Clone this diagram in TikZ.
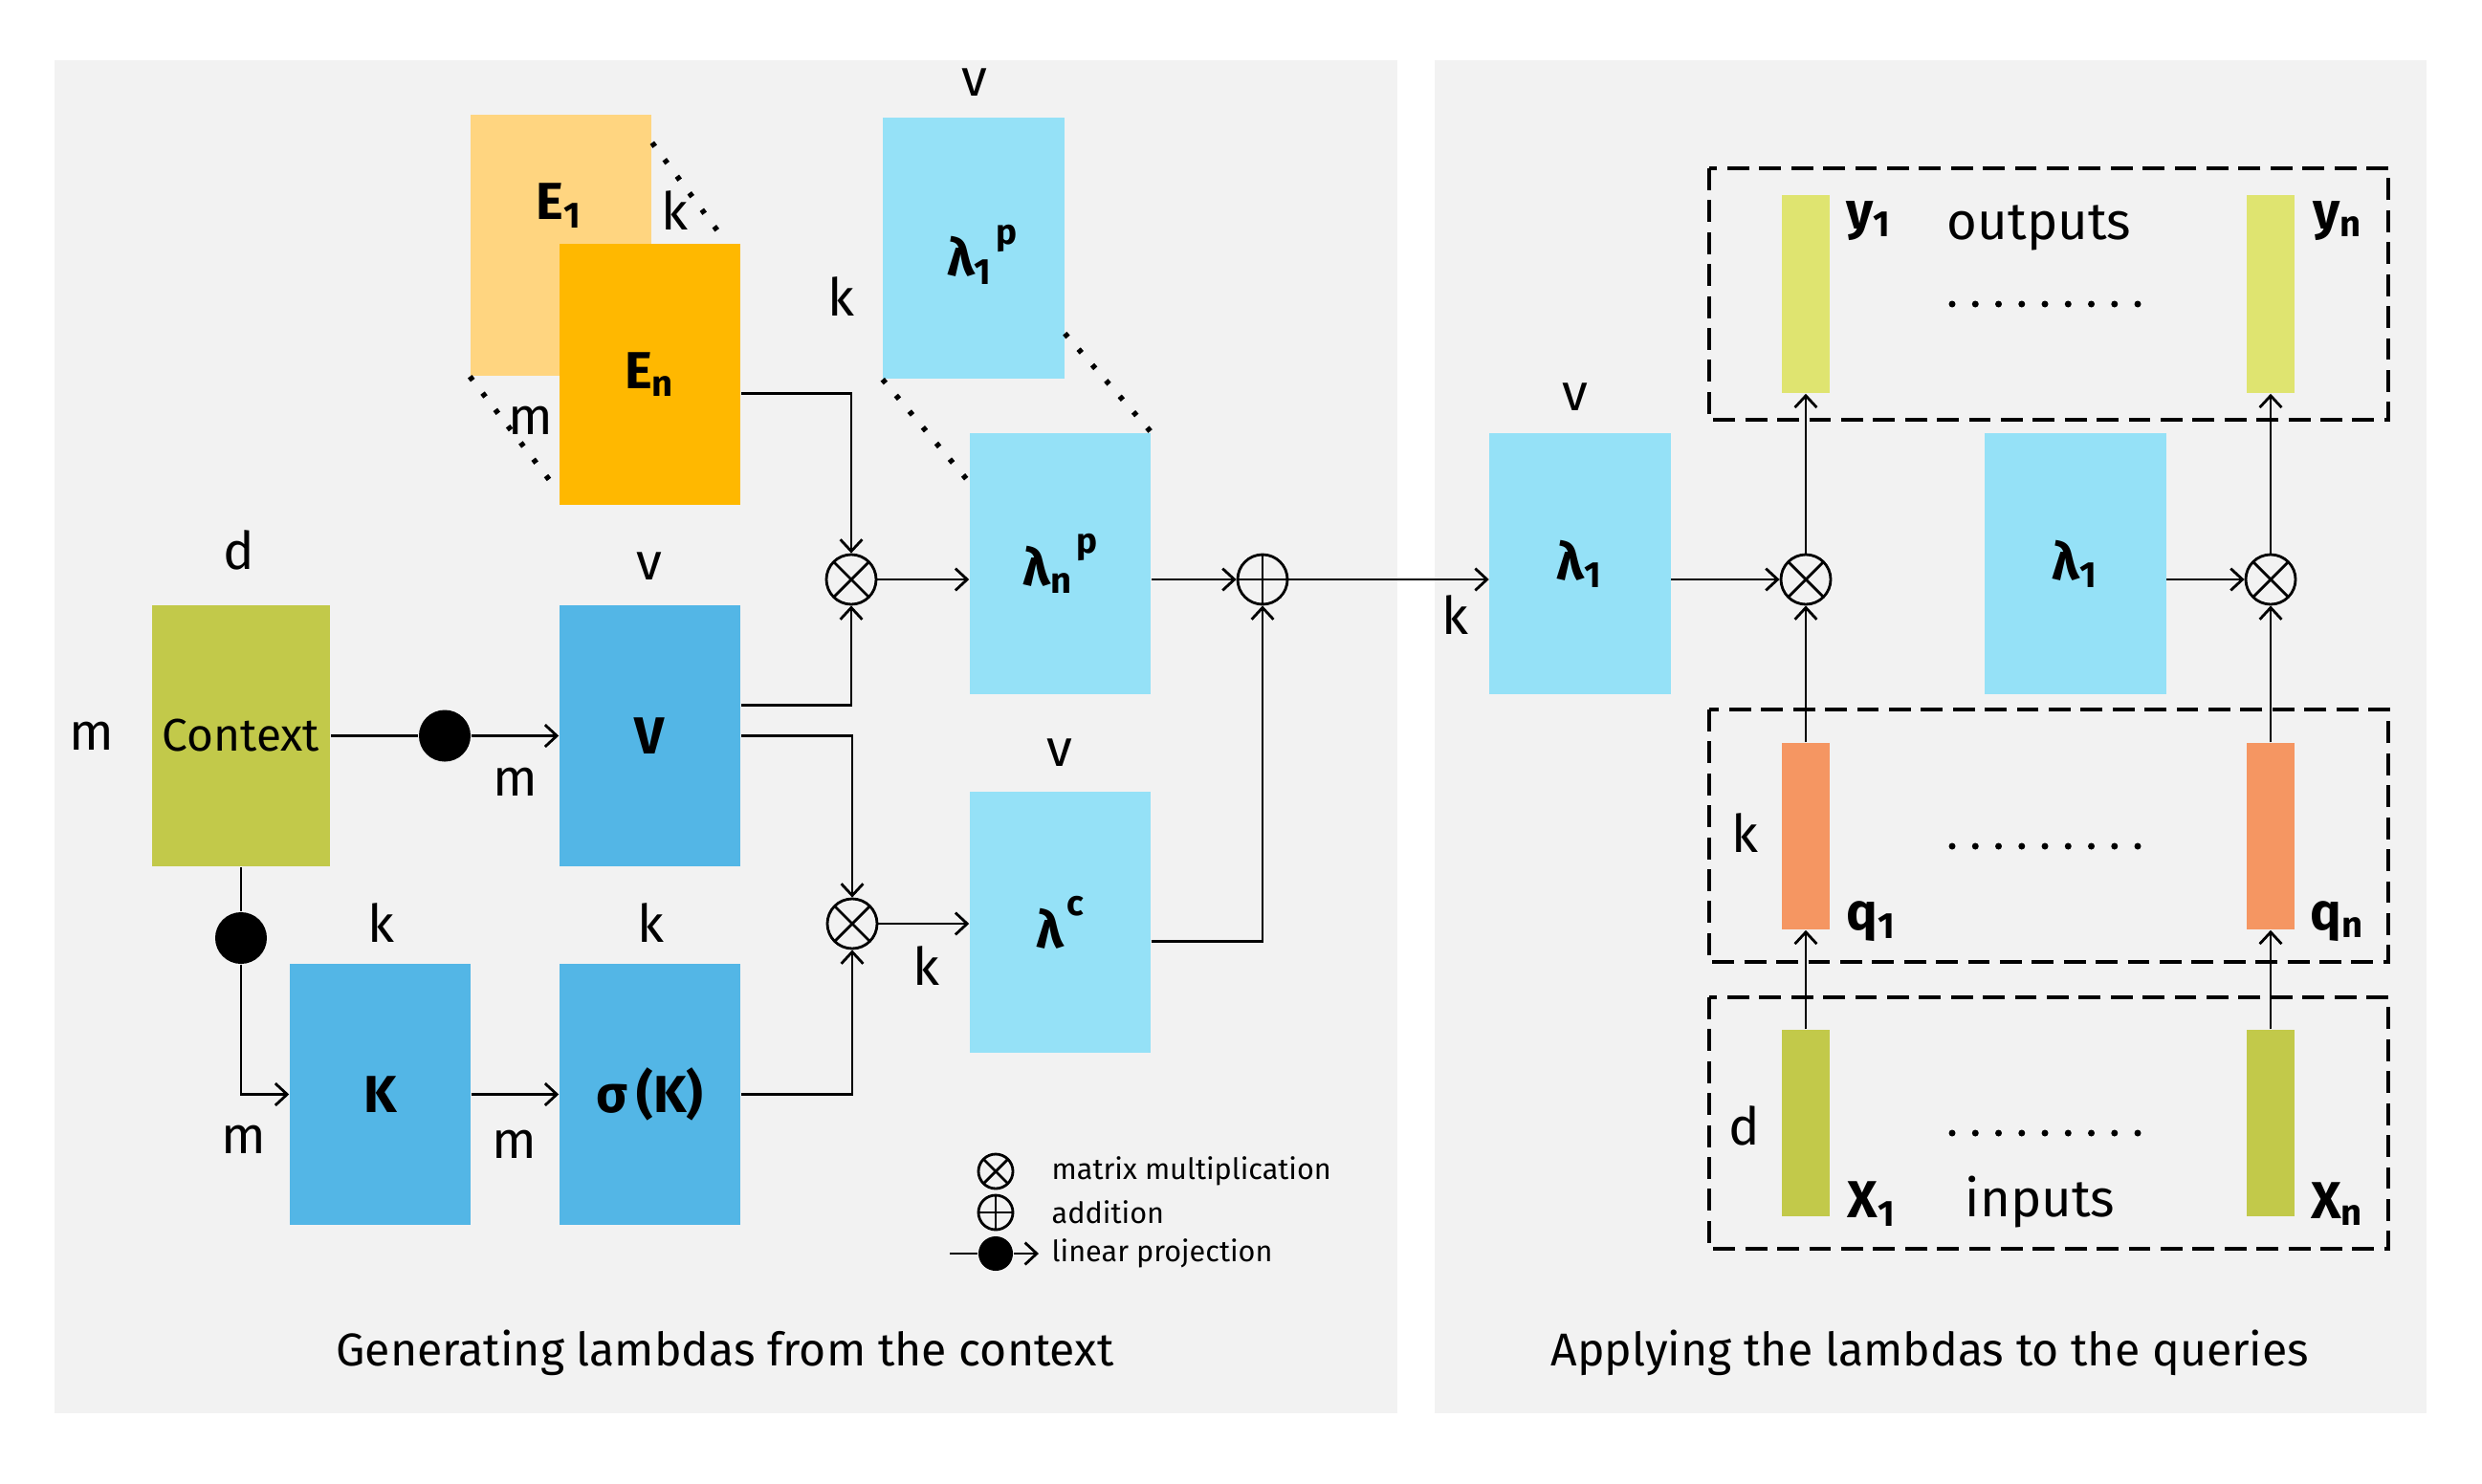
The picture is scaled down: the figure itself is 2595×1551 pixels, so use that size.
\documentclass[tikz,border=0pt]{standalone}
\usepackage{fontspec}
\setmainfont{Fira Sans}
\usetikzlibrary{arrows.meta}

\definecolor{panelgray}{HTML}{F2F2F2}
\definecolor{embA}{HTML}{FFD580}
\definecolor{embB}{HTML}{FFB800}
\definecolor{lamblue}{HTML}{95E1F7}
\definecolor{matblue}{HTML}{53B6E6}
\definecolor{ctxgreen}{HTML}{C2C94A}
\definecolor{outgreen}{HTML}{DFE470}
\definecolor{qorange}{HTML}{F59662}

\newcommand{\dimsz}{\fontsize{15.5}{18}\selectfont}
\newcommand{\ctxsz}{\fontsize{13.6}{16}\selectfont}
\newcommand{\ttlsz}{\fontsize{13.7}{16}\selectfont}
\newcommand{\lgdsz}{\fontsize{8.7}{10}\selectfont}
\newcommand{\hisup}[1]{\kern1pt\raisebox{0.62em}{\fontsize{10.5}{12}\selectfont #1}}

\tikzset{
	mat/.style={minimum width=1.89cm, minimum height=2.73cm, inner sep=0pt, fill=#1, font=\dimsz\bfseries},
	vbar/.style={minimum width=0.5cm, minimum height=1.95cm, inner sep=0pt, fill=#1},
	dimlbl/.style={font=\dimsz, inner sep=0pt},
	boldlbl/.style={font=\dimsz\bfseries, inner sep=0pt},
	wire/.style={line width=0.8pt},
	arw/.style={wire, -{Straight Barb[length=3.5pt,width=6.5pt]}},
	mulop/.style={circle, draw, line width=0.8pt, minimum size=0.52cm, inner sep=0pt,
		path picture={\draw[line width=0.8pt]
			(path picture bounding box.north west) -- (path picture bounding box.south east)
			(path picture bounding box.north east) -- (path picture bounding box.south west);}},
	addop/.style={circle, draw, line width=0.8pt, minimum size=0.52cm, inner sep=0pt,
		path picture={\draw[line width=0.8pt]
			(path picture bounding box.north) -- (path picture bounding box.south)
			(path picture bounding box.west) -- (path picture bounding box.east);}},
	projdot/.style={circle, fill=black, minimum size=0.54cm, inner sep=0pt},
	persp/.style={line width=1.6pt, dash pattern=on 1.4pt off 4.8pt},
	grpbox/.style={line width=1pt, dash pattern=on 6.5pt off 3pt},
}

\begin{document}
\begin{tikzpicture}[x=0.01cm, y=-0.01cm]
\useasboundingbox (0,0) rectangle (2595,1551);

% panels
\fill[panelgray] (57,63) rectangle (1461,1478);
\fill[panelgray] (1500,63) rectangle (2537,1478);

% embeddings and position lambdas
\node[mat=embA] (E1) at (586.5,256.5) {};
\node[boldlbl] (E1t) at (585,215) {E\textsubscript{1}};
\node[mat=embB] (En) at (679.5,391.5) {E\textsubscript{n}};
\node[mat=lamblue] (l1p) at (1018,259.5) {};
\node[boldlbl] (l1pt) at (1027,266) {λ\textsubscript{1}\hisup{p}};
\node[mat=lamblue] (lnp) at (1108.5,589.5) {λ\textsubscript{n}\hisup{p}};

\draw[persp] ([yshift=-0.3cm]E1.north east) -- ([xshift=-0.15cm]En.north east);
\draw[persp] (E1.south west) -- ([yshift=0.14cm]En.south west);
\draw[persp] ([yshift=0.48cm]l1p.south east) -- (lnp.north east);
\draw[persp] (l1p.south west) -- ([yshift=-0.52cm]lnp.north west);

% context and its projections
\node[mat=ctxgreen, font=\ctxsz, minimum width=1.86cm] (ctx) at (252,769.5) {Context};
\node[mat=matblue] (V) at (679.5,769.5) {V};
\node[mat=matblue] (K) at (397.5,1144.5) {K};
\node[mat=matblue] (sK) at (679.5,1144.5) {σ\,(K)};
\node[projdot] (pd1) at (465,769.5) {};
\node[projdot] (pd2) at (252,981) {};

% operators
\node[mulop] (m1) at (890,606) {};
\node[mulop] (m2) at (891,966) {};
\node[addop] (ad) at (1320,606) {};
\node[mat=lamblue] (lc) at (1108.5,964.5) {λ\hisup{c}};

\draw[wire] (ctx.east) -- (pd1);
\draw[arw] (pd1) -- (V.west);
\draw[wire] (ctx.south) -- (pd2);
\draw[arw] (pd2) |- (K.west);
\draw[arw] (K.east) -- (sK.west);
\draw[arw] ([yshift=-0.2cm]En.east) -| (m1.north);
\draw[arw] ([yshift=0.32cm]V.east) -| (m1.south);
\draw[arw] (V.east) -| (m2.north);
\draw[arw] (sK.east) -| (m2.south);
\draw[arw] (m1.east) -- (m1 -| lnp.west);
\draw[arw] (m2.east) -- (m2 -| lc.west);
\draw[arw] (lnp.east |- ad) -- (ad.west);
\draw[arw] ([yshift=-0.2cm]lc.east) -| (ad.south);

% applying the lambdas
\node[mat=lamblue] (l1a) at (1652,589.5) {λ\textsubscript{1}};
\node[mat=lamblue] (l1b) at (2170,589.5) {λ\textsubscript{1}};
\node[mulop] (m3) at (1888,606) {};
\node[mulop] (m4) at (2374,606) {};
\node[vbar=outgreen, minimum height=2.07cm] (y1) at (1888,307.5) {};
\node[vbar=outgreen, minimum height=2.07cm] (yn) at (2374,307.5) {};
\node[vbar=qorange] (q1) at (1888,874.5) {};
\node[vbar=qorange] (qn) at (2374,874.5) {};
\node[vbar=ctxgreen] (x1) at (1888,1174.5) {};
\node[vbar=ctxgreen] (xn) at (2374,1174.5) {};

\draw[arw] (ad.east) -- (ad -| l1a.west);
\draw[arw] (l1a.east |- m3) -- (m3.west);
\draw[arw] (l1b.east |- m4) -- (m4.west);
\draw[arw] (m3.north) -- (y1.south);
\draw[arw] (m4.north) -- (yn.south);
\draw[arw] (q1.north) -- (m3.south);
\draw[arw] (qn.north) -- (m4.south);
\draw[arw] (x1.north) -- (q1.south);
\draw[arw] (xn.north) -- (qn.south);

\draw[grpbox] (1787,176) rectangle (2497,439);
\draw[grpbox] (1787,742) rectangle (2497,1006);
\draw[grpbox] (1787,1043) rectangle (2497,1306);
\foreach \dy in {318,885,1185}
	\foreach \i in {0,...,8}
		\fill (2041+24.25*\i,\dy) circle (0.035cm);

\node[boldlbl] (y1t) at (1954,231) {y\textsubscript{1}};
\node[boldlbl] (ynt) at (2444,231) {y\textsubscript{n}};
\node[boldlbl] (q1t) at (1957,964) {q\textsubscript{1}};
\node[boldlbl] (qnt) at (2444,964) {q\textsubscript{n}};
\node[boldlbl] (x1t) at (1957,1259) {X\textsubscript{1}};
\node[boldlbl] (xnt) at (2444,1259) {X\textsubscript{n}};
\node[dimlbl] (outt) at (2132,238) {outputs};
\node[dimlbl] (inpt) at (2133,1257) {inputs};

% dimensions
\node[dimlbl] (dd1) at (250,575) {d};
\node[dimlbl] (dm1) at (96,770) {m};
\node[dimlbl] (dm2) at (539,818) {m};
\node[dimlbl] (dv1) at (679,592) {v};
\node[dimlbl] (dk1) at (398,965) {k};
\node[dimlbl] (dk2) at (680,965) {k};
\node[dimlbl] (dm3) at (255,1192) {m};
\node[dimlbl] (dm4) at (538,1197) {m};
\node[dimlbl] (dv2) at (1019,86) {v};
\node[dimlbl] (dk3) at (705,220) {k};
\node[dimlbl] (dm5) at (555,440) {m};
\node[dimlbl] (dk4) at (879,310) {k};
\node[dimlbl] (dv3) at (1108,787) {v};
\node[dimlbl] (dk5) at (968,1010) {k};
\node[dimlbl] (dv4) at (1647,415) {v};
\node[dimlbl] (dk6) at (1521,643) {k};
\node[dimlbl] (dk7) at (1824,871) {k};
\node[dimlbl] (dd2) at (1824,1177) {d};

% legend
\node[mulop, minimum size=0.36cm] (lgm) at (1041,1225) {};
\node[addop, minimum size=0.36cm] (lga) at (1041,1268) {};
\node[projdot, minimum size=0.36cm] (lgp) at (1041,1311) {};
\coordinate (lgs) at (993,1311);
\coordinate (lge) at (1086,1311);
\draw[wire] (lgs) -- (lgp);
\draw[arw] (lgp) -- (lge);
\node[font=\lgdsz, anchor=west, inner sep=0pt] (lgmt) at (1099,1225) {matrix multiplication};
\node[font=\lgdsz, anchor=west, inner sep=0pt] (lgat) at (1099,1268) {addition};
\node[font=\lgdsz, anchor=west, inner sep=0pt] (lgpt) at (1099,1311) {linear projection};

% titles
\node[font=\ttlsz] (ttlL) at (758,1415) {Generating lambdas from the context};
\node[font=\ttlsz] (ttlR) at (2018,1415) {Applying the lambdas to the queries};
\end{tikzpicture}
\end{document}
